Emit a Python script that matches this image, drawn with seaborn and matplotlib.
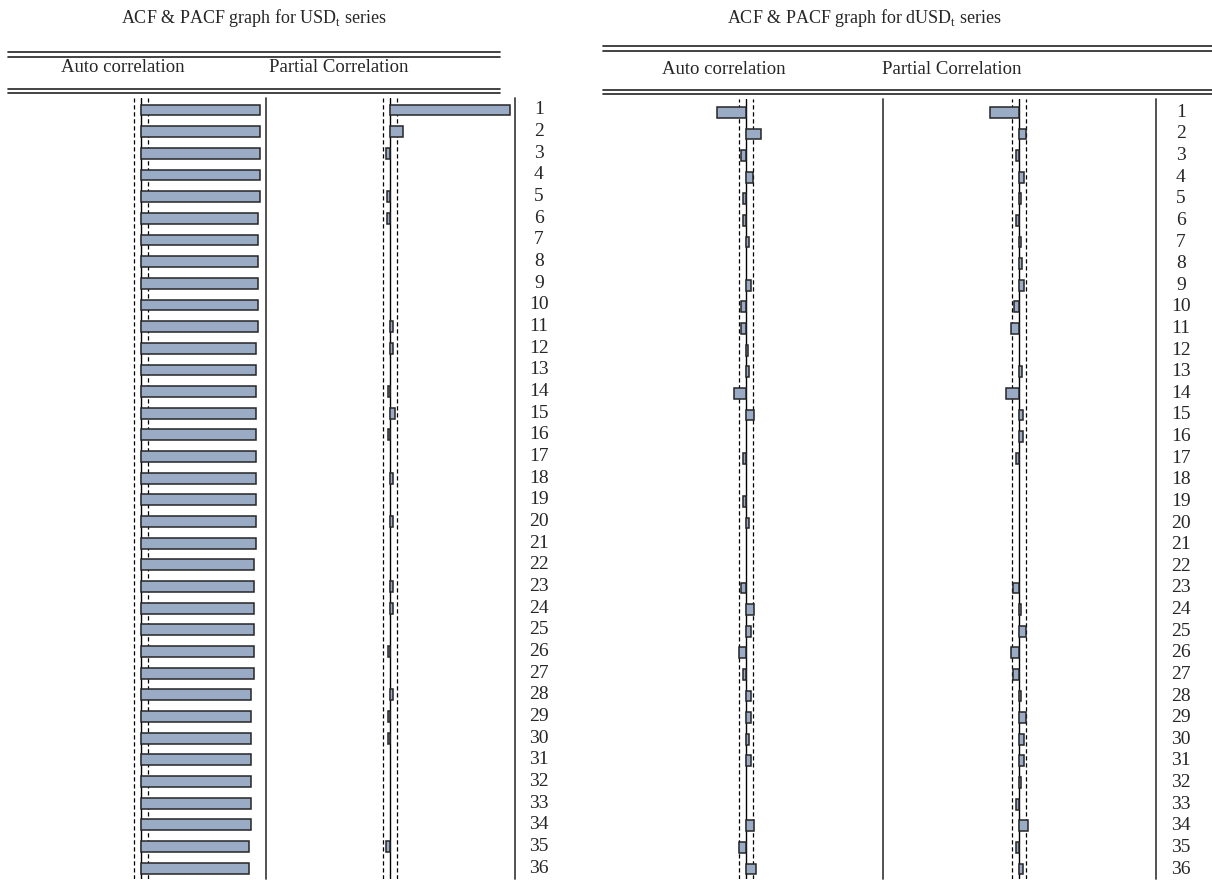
import matplotlib
matplotlib.use("Agg")
import matplotlib.pyplot as plt
import seaborn as sns
import pandas as pd
from matplotlib.lines import Line2D

# ── data: correlogram values ─────────────────────────────────
lags = list(range(1, 37))

usd_acf = [0.960, 0.960, 0.960, 0.957, 0.960, 0.941, 0.941, 0.944, 0.944, 0.941,
           0.944, 0.925, 0.925, 0.925, 0.925, 0.925, 0.925, 0.925, 0.925, 0.925,
           0.925, 0.909, 0.909, 0.909, 0.909, 0.909, 0.909, 0.890, 0.890, 0.890,
           0.890, 0.890, 0.890, 0.890, 0.871, 0.871]
usd_pacf = [0.962, 0.105, -0.038, 0.0, -0.024, -0.024, 0.0, 0.0, 0.0, 0.0,
            0.022, 0.020, 0.0, -0.020, 0.035, -0.020, 0.0, 0.020, 0.0, 0.020,
            0.0, 0.0, 0.020, 0.020, 0.0, -0.020, 0.0, 0.020, -0.020, -0.020,
            0.0, 0.0, 0.0, 0.0, -0.038, 0.0]

dusd_acf = [-0.213, 0.105, -0.037, 0.051, -0.022, -0.022, 0.017, 0.0, 0.037, -0.037,
            -0.037, 0.015, 0.017, -0.091, 0.054, 0.0, -0.022, 0.0, -0.022, 0.020,
            0.0, 0.0, -0.039, 0.054, 0.032, -0.054, -0.022, 0.037, 0.037, 0.017,
            0.037, 0.0, 0.0, 0.054, -0.056, 0.069]
dusd_pacf = [-0.213, 0.051, -0.022, 0.037, 0.020, -0.022, 0.020, 0.025, 0.037, -0.037,
             -0.059, 0.0, 0.022, -0.091, 0.034, 0.034, -0.022, 0.0, 0.0, 0.0,
             0.0, 0.0, -0.039, 0.020, 0.051, -0.056, -0.039, 0.020, 0.051, 0.037,
             0.037, 0.017, -0.022, 0.069, -0.020, 0.032]

usd_band = 0.055    # +/- 2/sqrt(T)
dusd_band = 0.052

titles = ["ACF & PACF graph for USD$_\\mathregular{t}$ series",
          "ACF & PACF graph for dUSD$_\\mathregular{t}$ series"]
col_headers = ["Auto correlation", "Partial Correlation"]

# ── style ────────────────────────────────────────────────────
sns.set_style("white")
plt.rcParams["font.family"] = ["Liberation Serif", "DejaVu Serif"]
plt.rcParams["mathtext.fontset"] = "custom"
plt.rcParams["mathtext.rm"] = "Liberation Serif"

BAR_COLOR = "#9aabc6"
EDGE_COLOR = "#262626"
TITLE_FS = 13
HEAD_FS = 13.5
LAG_FS = 14

W, H = 1212, 883
fig = plt.figure(figsize=(W / 100, H / 100), dpi=100)


def px_axes(x0, x1, y0, y1):
    return fig.add_axes([x0 / W, 1 - y1 / H, (x1 - x0) / W, (y1 - y0) / H])


def hline(x0, x1, y, lw=1.2):
    fig.add_artist(Line2D([x0 / W, x1 / W], [1 - y / H, 1 - y / H],
                          color="#222222", lw=lw))


def draw_column(ax, values, band, ylim):
    df = pd.DataFrame({"lag": lags, "value": values})
    sns.barplot(data=df, x="value", y="lag", orient="h", ax=ax,
                color=BAR_COLOR, edgecolor=EDGE_COLOR, linewidth=1.1,
                width=0.5, saturation=1, errorbar=None, zorder=3)
    for p in ax.patches:
        if p.get_width() == 0:
            p.set_visible(False)
    for b in (-band, band):
        ax.axvline(b, color="black", lw=0.9, ls=(0, (3.4, 2.2)), zorder=1)
    ax.axvline(0, color="black", lw=1.0, zorder=2)
    ax.axvline(1.01, color="#444444", lw=1.3, clip_on=False, zorder=2)
    ax.set_xlim(-1, 1.01)
    ax.set_ylim(*ylim)
    ax.set_axis_off()


# ── panel layout (pixels) ────────────────────────────────────
panels = [
    dict(acf=usd_acf, pacf=usd_pacf, band=usd_band, title=titles[0],
         zero=141, scale=124, y0=98, y1=879, row1=110, step=21.66,
         table=(8, 500), lines=(51.5, 57, 88.5, 93), title_x=254, title_y=18,
         head_x=(122.5, 339), head_y=68, lag_x=539),
    dict(acf=dusd_acf, pacf=dusd_pacf, band=dusd_band, title=titles[1],
         zero=746.3, scale=135.5, y0=99, y1=879, row1=112.3, step=21.62,
         table=(603, 1212), lines=(46, 51, 89.5, 93.5), title_x=864, title_y=18,
         head_x=(724, 951.5), head_y=69, lag_x=1181),
]

for pn in panels:
    ylim = ((pn["y1"] - pn["row1"]) / pn["step"], (pn["y0"] - pn["row1"]) / pn["step"])
    col_w = 2.01 * pn["scale"]
    acf_left = pn["zero"] - pn["scale"]

    ax_acf = px_axes(acf_left, acf_left + col_w, pn["y0"], pn["y1"])
    draw_column(ax_acf, pn["acf"], pn["band"], ylim)

    ax_pacf = px_axes(acf_left + col_w, acf_left + 2 * col_w, pn["y0"], pn["y1"])
    draw_column(ax_pacf, pn["pacf"], pn["band"], ylim)

    # lag numbers column
    ax_lag = px_axes(pn["lag_x"] - 25, pn["lag_x"] + 25, pn["y0"], pn["y1"])
    ax_lag.set_xlim(0, 1)
    ax_lag.set_ylim(*ylim)
    for i, lag in enumerate(lags):
        ax_lag.text(0.5, i, str(lag), ha="center", va="center", fontsize=LAG_FS)
    ax_lag.set_axis_off()

    # table rules, title and headers
    x0, x1 = pn["table"]
    for y in pn["lines"]:
        hline(x0, x1, y)
    fig.text(pn["title_x"] / W, 1 - pn["title_y"] / H, pn["title"],
             ha="center", va="center", fontsize=TITLE_FS)
    for hx, txt in zip(pn["head_x"], col_headers):
        fig.text(hx / W, 1 - pn["head_y"] / H, txt,
                 ha="center", va="center", fontsize=HEAD_FS)

fig.savefig("out.png", dpi=100)
